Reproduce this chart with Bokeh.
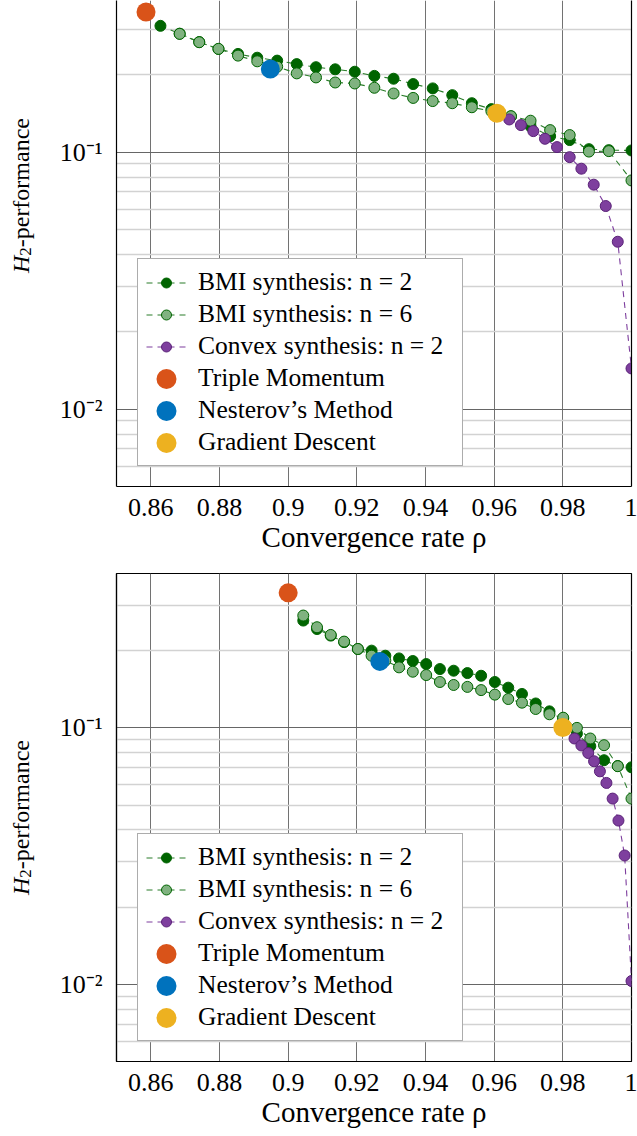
import math
from bokeh.plotting import figure
from bokeh.models import Range1d, FixedTicker, Legend, LegendItem, LinearAxis
from bokeh.layouts import column, row
from bokeh.core.properties import value
from bokeh.embed import file_html
from bokeh.resources import INLINE

# ---------------- data ----------------
x_ticks = [0.86, 0.88, 0.90, 0.92, 0.94, 0.96, 0.98, 1.0]
x_tick_labels = ["0.86", "0.88", "0.9", "0.92", "0.94", "0.96", "0.98", "1"]
y_ticks = [0.01, 0.1]
y_tick_labels = ["10\u207b\u00b2", "10\u207b\u00b9"]
y_minor = [0.005, 0.006, 0.007, 0.008, 0.009, 0.02, 0.03, 0.04, 0.05, 0.06,
           0.07, 0.08, 0.09, 0.2, 0.3, 0.4]

series_names = ["BMI synthesis: n = 2", "BMI synthesis: n = 6", "Convex synthesis: n = 2"]
method_names = ["Triple Momentum", "Nesterov\u2019s Method", "Gradient Descent"]
ylabel_parts = ["H", "2", "-performance"]
xlabel = "Convergence rate \u03c1"

# top panel
rho_bmi2_a = [0.8628, 0.8684, 0.8741, 0.8797, 0.8854, 0.8910, 0.8968, 0.9025, 0.9081,
              0.9137, 0.9194, 0.9251, 0.9307, 0.9364, 0.9421, 0.9478, 0.9535, 0.9592,
              0.9649, 0.9706, 0.9763, 0.9820, 0.9876, 0.9934, 1.0]
h2_bmi2_a = [0.310, 0.289, 0.268, 0.252, 0.241, 0.233, 0.227, 0.220, 0.214, 0.210,
             0.2055, 0.198, 0.193, 0.184, 0.177, 0.1666, 0.155, 0.147, 0.1377, 0.126,
             0.1154, 0.1114, 0.1027, 0.1018, 0.1015]
rho_bmi6_a = [0.8684, 0.8741, 0.8797, 0.8854, 0.8910, 0.8968, 0.9025, 0.9081,
              0.9137, 0.9194, 0.9251, 0.9307, 0.9364, 0.9421, 0.9478, 0.9535, 0.9592,
              0.9649, 0.9706, 0.9763, 0.9820, 0.9876, 0.9934, 1.0]
h2_bmi6_a = [0.2885, 0.2677, 0.2522, 0.2374, 0.2256, 0.215, 0.2025, 0.1953, 0.1866,
             0.1850, 0.1780, 0.1691, 0.1625, 0.158, 0.155, 0.1495, 0.1442, 0.1380,
             0.1325, 0.1218, 0.1165, 0.1005, 0.1009, 0.0776]
rho_cvx_a = [0.9644, 0.9678, 0.9714, 0.9748, 0.9783, 0.9820, 0.9854, 0.9890, 0.9925, 0.9960, 1.0]
h2_cvx_a = [0.1340, 0.1274, 0.1207, 0.1127, 0.1046, 0.0956, 0.0862, 0.0747, 0.0617, 0.0448, 0.0144]
rho_methods_a = [0.8586, 0.8948, 0.9608]
h2_methods_a = [0.351, 0.2105, 0.1416]

# bottom panel
rho_bmi_b = [0.9044, 0.9084, 0.9124, 0.9163, 0.9203, 0.9243, 0.9283, 0.9323, 0.9363,
             0.9402, 0.9442, 0.9482, 0.9522, 0.9562, 0.9602, 0.9641, 0.9681, 0.9721,
             0.9761, 0.9801, 0.9841, 0.9880, 0.9920, 0.9960, 1.0]
h2_bmi2_b = [0.2621, 0.243, 0.229, 0.216, 0.203, 0.2001, 0.1912, 0.1866, 0.1823,
             0.1774, 0.1696, 0.1671, 0.1636, 0.1597, 0.151, 0.1435, 0.1356, 0.1245,
             0.116, 0.109, 0.095, 0.0848, 0.0748, 0.071, 0.0702]
h2_bmi6_b = [0.2742, 0.2469, 0.2304, 0.2170, 0.2031, 0.1912, 0.183, 0.1722, 0.1656,
             0.1607, 0.151, 0.147, 0.1445, 0.1404, 0.1348, 0.1296, 0.1254, 0.1185,
             0.113, 0.1096, 0.1000, 0.0909, 0.0856, 0.0709, 0.0530]
rho_cvx_b = [0.9834, 0.9854, 0.9874, 0.9891, 0.9908, 0.9927, 0.9945, 0.9962, 0.9980, 1.0]
h2_cvx_b = [0.0909, 0.0854, 0.0798, 0.0741, 0.0677, 0.0610, 0.0530, 0.0435, 0.0318, 0.0103]
rho_methods_b = [0.9, 0.9267, 0.98]
h2_methods_b = [0.3362, 0.1817, 0.1003]

# ---------------- style ----------------
FONT = "Liberation Serif"
DARK_GREEN = "#006400"
LIGHT_GREEN = "#80b280"
GREEN_LINE = "#2a7d2a"
PURPLE = "#7E3F9E"
PURPLE_EDGE = "#5a2278"
METHOD_COLORS = ["#D95319", "#0072BD", "#EDB120"]
LAB_W = 40


def make_label_fig(height, top, bottom, y_center):
    # frame spans figure-relative pixel rows [top, height - bottom]
    q = figure(width=LAB_W, height=height, x_range=Range1d(0, LAB_W),
               y_range=Range1d(height - bottom, top), output_backend="svg",
               toolbar_location=None, x_axis_location=None, y_axis_location=None,
               min_border_left=0, min_border_right=0, min_border_top=top,
               min_border_bottom=bottom)
    q.grid.visible = False
    q.outline_line_color = None
    q.background_fill_color = "white"
    q.border_fill_color = "white"
    f = 24
    wH = 0.722 * f
    w2 = 0.5 * 0.7 * f
    wR = 5.386 * f
    L = wH + w2 + wR
    start = y_center + L / 2
    xc = 20
    common = dict(angle=math.pi / 2, text_align="left", text_baseline="middle",
                  text_font=value(FONT), text_color="black")
    q.text(x=[xc], y=[start], text=[ylabel_parts[0]], text_font_size=f"{f}px",
           text_font_style="italic", **common)
    q.text(x=[xc + 5], y=[start - wH], text=[ylabel_parts[1]],
           text_font_size=f"{round(f * 0.7)}px", **common)
    q.text(x=[xc], y=[start - wH - w2], text=[ylabel_parts[2]],
           text_font_size=f"{f}px", **common)
    return q


def make_panel(height, top, bottom, y_max, data, full_frame):
    (rho2, h2_2, rho6, h2_6, rhoc, h2c, rhom, h2m) = data
    p = figure(width=637 - LAB_W, height=height,
               x_range=Range1d(0.85, 1.0), y_range=Range1d(0.005, y_max),
               y_axis_type="log", output_backend="svg", toolbar_location=None,
               min_border_left=116 - LAB_W, min_border_right=6,
               min_border_top=top, min_border_bottom=bottom)
    p.background_fill_color = "white"
    p.border_fill_color = "white"

    # axes
    p.xaxis.ticker = FixedTicker(ticks=x_ticks)
    p.xaxis.major_label_overrides = dict(zip(x_ticks, x_tick_labels))
    p.yaxis.ticker = FixedTicker(ticks=y_ticks, minor_ticks=y_minor)
    p.yaxis.major_label_overrides = dict(zip(y_ticks, y_tick_labels))
    for ax in (p.xaxis, p.yaxis):
        ax.major_tick_out = 0
        ax.major_tick_in = 0
        ax.minor_tick_out = 0
        ax.minor_tick_in = 0
        ax.axis_line_color = "black"
        ax.axis_line_width = 1.2
        ax.major_label_text_font = FONT
        ax.major_label_text_font_size = "26px"
        ax.major_label_text_color = "black"
    p.xaxis.major_label_standoff = 12
    p.yaxis.major_label_standoff = 14
    p.xaxis.axis_label = xlabel
    p.xaxis.axis_label_text_font = FONT
    p.xaxis.axis_label_text_font_size = "29px"
    p.xaxis.axis_label_text_font_style = "normal"
    p.xaxis.axis_label_text_color = "black"
    p.xaxis.axis_label_standoff = 2

    if full_frame:
        p.outline_line_color = "black"
        p.outline_line_width = 1.2
    else:
        p.outline_line_color = None
        ax_r = LinearAxis(ticker=FixedTicker(ticks=[]), major_label_text_font_size="0px",
                          axis_line_color="black", axis_line_width=1.2,
                          major_tick_out=0, major_tick_in=0,
                          minor_tick_out=0, minor_tick_in=0, major_label_standoff=0)
        p.add_layout(ax_r, "right")

    # grid
    p.xgrid.grid_line_color = "#727272"
    p.xgrid.grid_line_width = 1
    p.ygrid.grid_line_color = "#666666"
    p.ygrid.grid_line_width = 1
    p.ygrid.minor_grid_line_color = "#d2d2d2"
    p.ygrid.minor_grid_line_width = 1.3

    # series
    l2 = p.line(rho2, h2_2, line_color=GREEN_LINE, line_width=1.1, line_dash="6 5")
    s2 = p.scatter(rho2, h2_2, size=11, marker="circle", fill_color=DARK_GREEN,
                   line_color=DARK_GREEN, line_width=1)
    l6 = p.line(rho6, h2_6, line_color=GREEN_LINE, line_width=1.1, line_dash="6 5")
    s6 = p.scatter(rho6, h2_6, size=11, marker="circle", fill_color=LIGHT_GREEN,
                   line_color=DARK_GREEN, line_width=1)
    lc = p.line(rhoc, h2c, line_color=PURPLE, line_width=1.1, line_dash="6 5")
    sc = p.scatter(rhoc, h2c, size=11, marker="circle", fill_color=PURPLE,
                   line_color=PURPLE_EDGE, line_width=1)
    method_r = []
    for i in range(3):
        r = p.ellipse(x=[rhom[i]], y=[h2m[i]], width=19, height=19,
                      width_units="screen", height_units="screen",
                      fill_color=METHOD_COLORS[i], line_color=None)
        method_r.append(r)

    items = [LegendItem(label=series_names[0], renderers=[l2, s2]),
             LegendItem(label=series_names[1], renderers=[l6, s6]),
             LegendItem(label=series_names[2], renderers=[lc, sc])]
    for i in range(3):
        items.append(LegendItem(label=method_names[i], renderers=[method_r[i]]))
    legend = Legend(items=items, location=(21, 20))
    legend.label_text_font = FONT
    legend.label_text_font_size = "25.5px"
    legend.label_text_color = "black"
    legend.glyph_width = 40
    legend.glyph_height = 25
    legend.label_height = 25
    legend.label_width = 256
    legend.label_standoff = 12
    legend.spacing = 2
    legend.padding = 8
    legend.margin = 0
    legend.border_line_color = "#5a5a5a"
    legend.border_line_width = 1
    legend.background_fill_color = "white"
    legend.background_fill_alpha = 1.0
    p.add_layout(legend)
    return p


H_TOP, TOP_T, TOP_B = 560, 0, 74
H_BOT, BOT_T, BOT_B = 576, 13, 75
p_top = make_panel(H_TOP, TOP_T, TOP_B, 0.389,
                   (rho_bmi2_a, h2_bmi2_a, rho_bmi6_a, h2_bmi6_a, rho_cvx_a, h2_cvx_a,
                    rho_methods_a, h2_methods_a), False)
p_bot = make_panel(H_BOT, BOT_T, BOT_B, 0.4,
                   (rho_bmi_b, h2_bmi2_b, rho_bmi_b, h2_bmi6_b, rho_cvx_b, h2_cvx_b,
                    rho_methods_b, h2_methods_b), True)
lab_top = make_label_fig(H_TOP, TOP_T, TOP_B, 195)
lab_bot = make_label_fig(H_BOT, BOT_T, BOT_B, 817 - H_TOP)

layout = column(row(lab_top, p_top, spacing=0), row(lab_bot, p_bot, spacing=0), spacing=0)
open("out.html", "w").write(file_html(layout, INLINE))
